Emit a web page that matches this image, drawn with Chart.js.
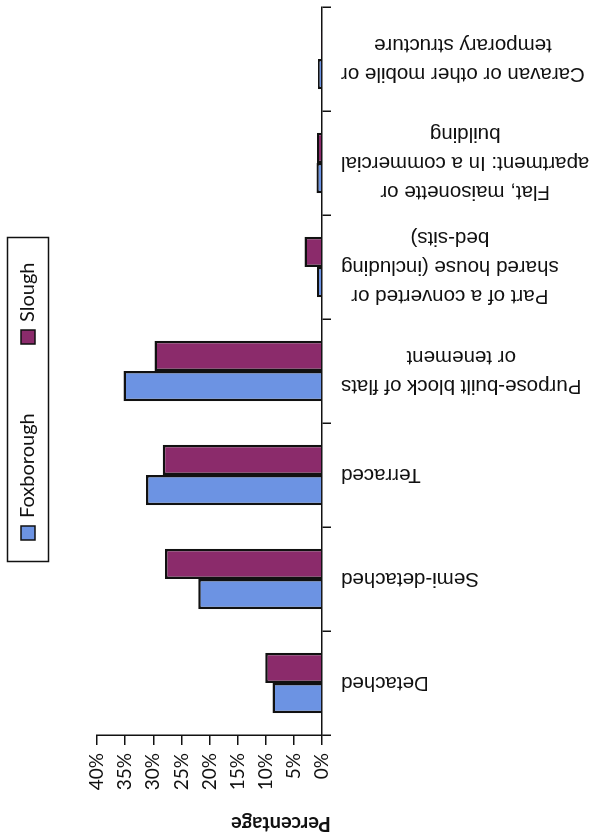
<!DOCTYPE html>
<html>
<head>
<meta charset="utf-8">
<script src="https://cdn.jsdelivr.net/npm/chart.js@4/dist/chart.umd.min.js"></script>
<style>
  html, body { margin: 0; padding: 0; background: #ffffff; width: 598px; height: 836px; overflow: hidden; }
  #wrap { position: absolute; left: 0; top: 0; width: 836px; height: 598px;
          transform-origin: 0 0; transform: translateY(836px) rotate(-90deg); background: #ffffff; }
  canvas { display: block; }
</style>
</head>
<body>
<div id="wrap"><canvas id="c" width="836" height="598" style="width:836px;height:598px"></canvas></div>
<script>
// ---- data ----
const categories = [
  ["Detached"],
  ["Semi-detached"],
  ["Terraced"],
  ["Purpose-built block of flats", "or tenement"],
  ["Part of a converted or", "shared house (including", "bed-sits)"],
  ["Flat, maisonette or", "apartment: In a commercial", "building"],
  ["Caravan or other mobile or", "temporary structure"]
];
const seriesNames = ["Foxborough", "Slough"];
const foxborough = [8.8, 22.0, 31.3, 35.3, 0.9, 1.0, 0.7];
const slough = [10.1, 27.9, 28.3, 29.8, 3.1, 0.9, 0.2];
const valueTicks = [0, 5, 10, 15, 20, 25, 30, 35, 40];
const axisTitle = "Percentage";

const BLUE = '#6C93E3';
const PURPLE = '#8B2B6B';
const INK = '#111111';

const overlay = {
  id: 'overlay',
  afterDraw(chart) {
    const ctx = chart.ctx;
    const xs = chart.scales.x;
    const area = chart.chartArea;
    ctx.save();
    ctx.fillStyle = INK;
    // category labels (multi-line, centred lines, rotated)
    ctx.font = '20.5px "Liberation Sans", Arial, sans-serif';
    const lh = 29;
    chart.data.labels.forEach((lab, i) => {
      const lines = Array.isArray(lab) ? lab : [lab];
      const w = Math.max(...lines.map(l => ctx.measureText(l).width));
      const px = xs.getPixelForValue(i);
      ctx.save();
      ctx.translate(px, area.bottom + 19);
      ctx.rotate(-Math.PI / 2);
      ctx.textAlign = 'center';
      ctx.textBaseline = 'middle';
      lines.forEach((l, j) => ctx.fillText(l, -w / 2, (j - (lines.length - 1) / 2) * lh));
      ctx.restore();
    });
    // value axis title
    ctx.save();
    ctx.font = 'bold 20px Lato, "Open Sans", sans-serif';
    ctx.translate(13, area.bottom - 41);
    ctx.rotate(-Math.PI / 2);
    ctx.textAlign = 'center';
    ctx.textBaseline = 'middle';
    ctx.fillText(axisTitle, 0, 0);
    ctx.restore();
    // legend with frame
    ctx.lineWidth = 1.5;
    ctx.strokeStyle = INK;
    ctx.strokeRect(274.5, 7.5, 324, 41);
    ctx.font = '20px Lato, "Open Sans", sans-serif';
    ctx.textAlign = 'left';
    ctx.textBaseline = 'middle';
    const swX = [296, 492];
    chart.data.datasets.forEach((ds, k) => {
      ctx.fillStyle = ds.backgroundColor;
      ctx.fillRect(swX[k], 21, 14, 14);
      ctx.lineWidth = 1.5;
      ctx.strokeStyle = INK;
      ctx.strokeRect(swX[k], 21, 14, 14);
      ctx.fillStyle = INK;
      ctx.fillText(ds.label, swX[k] + 22, 28);
    });
    ctx.restore();
  }
};

new Chart(document.getElementById('c'), {
  type: 'bar',
  data: {
    labels: categories,
    datasets: [
      { label: seriesNames[0], data: foxborough, backgroundColor: BLUE, borderColor: INK, borderWidth: 2.5,
        categoryPercentage: 0.58, barPercentage: 1.0 },
      { label: seriesNames[1], data: slough, backgroundColor: PURPLE, borderColor: INK, borderWidth: 2.5,
        categoryPercentage: 0.58, barPercentage: 1.0 }
    ]
  },
  options: {
    responsive: false,
    animation: false,
    devicePixelRatio: 1,
    layout: { padding: { top: 97, right: 7, left: 0, bottom: 0 } },
    plugins: { legend: { display: false }, tooltip: { enabled: false } },
    scales: {
      x: {
        type: 'category',
        offset: true,
        grid: { offset: true, drawOnChartArea: false, drawTicks: true, tickLength: 9, color: INK, lineWidth: 1.5 },
        border: { display: true, color: INK, width: 1.5 },
        ticks: { display: false },
        afterFit(s) { s.height = 276; }
      },
      y: {
        type: 'linear',
        min: 0, max: 40,
        afterBuildTicks(s) { s.ticks = valueTicks.map(v => ({ value: v })); },
        grid: { drawOnChartArea: false, drawTicks: true, tickLength: 10, color: INK, lineWidth: 1.5 },
        border: { display: true, color: INK, width: 1.5 },
        ticks: { color: INK, padding: 8, font: { family: 'Lato, "Open Sans", sans-serif', size: 19 },
                 callback: v => v + '%' },
        afterFit(s) { s.width = 101; }
      }
    }
  },
  plugins: [overlay]
});
</script>
</body>
</html>
